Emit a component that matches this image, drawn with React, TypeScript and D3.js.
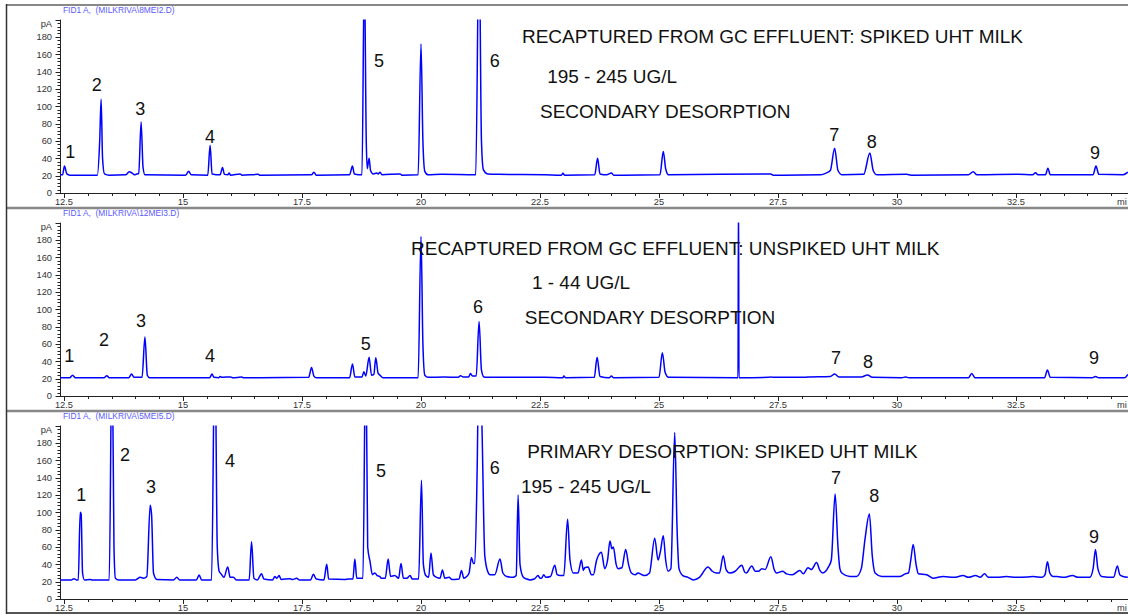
import React from "react";
import * as d3 from "d3";

// ---------- data (time in min, signal in pA) ----------
const traceSpikedSecondary: [number, number][] = [
  [12.42,21],[12.47,21],[12.51,31],[12.56,22],[12.62,20.5],
  [13.2,20.5],[13.25,60],[13.28,108],[13.31,40],[13.35,22],[13.45,20.5],
  [13.8,21],[13.87,24.5],[13.93,23],[13.98,21],[14.03,22],[14.07,22.5],[14.12,82],[14.16,30],[14.2,21],
  [15.05,20.5],[15.12,25],[15.17,21],
  [15.52,20.5],[15.57,55],[15.61,22],[15.78,21],[15.83,29.5],[15.87,21.5],[15.94,21],[15.97,23],[16.0,20.5],[16.2,22],[16.24,20.5],[16.58,21.5],[16.62,20.5],
  [17.7,21],[17.75,24],[17.8,20.5],
  [18.5,21],[18.56,31],[18.6,22],[18.76,21],[18.81,260],[18.85,60],[18.87,28],[18.91,40],[18.94,26],[19.0,22],[19.07,23],[19.1,22],[19.14,24],[19.18,21],[19.56,22],[19.6,20.5],
  [19.94,21],[20.0,172],[20.04,60],[20.08,25],[20.15,21],[20.43,21.5],
  [21.15,21],[21.22,300],[21.27,60],[21.31,27],[21.4,22],[21.62,21.5],[22.6,21],
  [22.95,20.5],[22.98,22.7],[23.02,20.5],
  [23.65,21],[23.71,40],[23.76,22],[23.9,21],[24.0,23],[24.05,20.5],
  [25.02,21],[25.09,48],[25.14,28],[25.2,21],
  [27.35,22],[27.4,20.5],[28.4,21],[28.51,23],[28.6,26],[28.69,51.5],[28.76,26],[28.85,21],
  [29.3,21.5],[29.43,46],[29.5,26],[29.58,21],[30.2,21.5],[30.3,20.5],
  [31.5,21],[31.6,24.6],[31.68,21],[32.54,21.5],[32.85,21],[32.91,23.4],[32.96,21],[33.12,21],[33.17,28.5],[33.22,21],
  [34.12,21],[34.18,31],[34.24,21.5],[34.75,21],[34.85,24],
];

const traceUnspikedSecondary: [number, number][] = [
  [12.42,21],[12.62,21],[12.68,24],[12.74,21],[13.34,21],[13.4,23.5],[13.45,21],[13.86,21],[13.92,25.4],[13.97,21.5],[14.14,21.5],[14.2,68],[14.25,24],[14.3,21],
  [15.56,21],[15.61,25.4],[15.65,21.5],[15.75,21],[15.78,22.5],[15.82,21.5],[15.9,22],[16.0,22],[16.05,21],[16.23,21.8],[16.28,21],
  [17.64,21.5],[17.7,33],[17.75,23],[17.8,21],
  [18.5,21],[18.56,37],[18.61,22],[18.76,22],[18.8,28],[18.84,23],[18.91,44.6],[18.96,24],[19.01,25],[19.05,44],[19.1,26],[19.14,24],[19.2,21],
  [19.94,21],[20.0,184],[20.04,60],[20.08,24],[20.15,21.5],[20.48,22],[20.78,21.5],[20.83,23.5],[20.88,22],[21.0,22],[21.04,26],[21.08,23],[21.16,23],[21.22,86],[21.27,30],[21.32,22],[21.4,21.5],
  [22.6,21.5],[22.98,21],[23.0,23],[23.04,21],[23.64,21.5],[23.7,44.6],[23.76,22.5],[23.95,21],[24.0,23],[24.05,21],
  [25.0,21.5],[25.07,50],[25.13,27],[25.2,21.5],
  [26.66,21],[26.67,240],[26.68,21],
  [27.3,21.5],[27.35,22],[27.4,21.5],[28.0,21.5],[28.13,22],[28.6,22.5],[28.69,25.4],[28.78,22],[29.25,22],[29.38,24.2],[29.48,21.5],[30.1,21],[30.18,22],[30.25,21],
  [31.5,21],[31.57,26],[31.64,21],[33.1,21],[33.16,30],[33.22,21.5],[34.1,21],[34.17,22.5],[34.24,21],[34.78,21],[34.85,25],
];

const traceSpikedPrimary: [number, number][] = [
  [12.42,22],[12.65,22],[12.71,23.5],[12.76,22],[12.8,22],[12.84,100],[12.86,98],[12.89,30],[12.93,22],[13.05,22.5],[13.1,22],
  [13.45,22],[13.51,300],[13.55,60],[13.58,24],[13.65,22],
  [14.0,22],[14.1,25],[14.17,24],[14.24,26],[14.31,108],[14.34,97],[14.38,30],[14.45,22.5],
  [14.8,22],[14.87,25],[14.93,22],[15.28,22],[15.34,27.6],[15.39,22],
  [15.6,22],[15.67,300],[15.72,60],[15.76,32],[15.8,29],[15.86,25],[15.94,37],[15.99,25],[16.06,25],[16.12,22],
  [16.39,22],[16.44,66],[16.49,24],[16.56,22],[16.65,29],[16.7,23],[16.88,22],[16.93,26],[16.97,24],[17.02,27],[17.06,22.5],[17.25,23.5],[17.3,22.5],[17.39,24],[17.44,22],
  [17.68,22],[17.74,28.5],[17.8,23],[17.96,22],[18.02,40],[18.06,23],[18.4,22.5],[18.47,23],[18.57,23],[18.61,46],[18.65,24],[18.78,24],[18.84,300],[18.88,60],[18.93,43],[18.98,28],[19.03,30],[19.08,27],[19.13,26],[19.17,24],[19.25,24],[19.31,46],[19.36,26],[19.45,27],[19.53,24],[19.58,41],[19.63,24],[19.7,24],[19.77,27],[19.82,23],
  [19.95,23],[20.01,137],[20.05,40],[20.1,27],[20.16,25],[20.21,53],[20.26,28],[20.33,25],[20.4,24],[20.45,33.5],[20.5,24],[20.59,25],[20.65,22.5],[20.71,22.5],[20.8,23],[20.85,33],[20.9,24],[20.96,26],[21.01,30],[21.06,48],[21.1,41],[21.13,41],[21.18,150],[21.22,300],[21.28,200],[21.34,50],[21.4,32],[21.45,28],[21.55,28],[21.66,46],[21.72,30],[21.8,26],[21.94,25],[22.0,27],[22.04,120],[22.08,40],[22.15,25],[22.22,23],[22.29,22],[22.38,23],[22.46,27],[22.5,24],[22.53,24],[22.58,28],[22.62,25],[22.72,26],[22.81,39],[22.86,28],[22.92,27],[23.0,27],[23.08,92],[23.13,45],[23.2,30],[23.3,30],[23.37,45],[23.41,33],[23.44,36],[23.51,37],[23.58,28],[23.62,28],[23.69,45],[23.76,53],[23.79,54],[23.86,35],[23.92,45],[23.97,67],[24.01,58],[24.04,60],[24.1,40],[24.14,35],[24.22,36],[24.3,57],[24.36,40],[24.42,30],[24.5,28],[24.56,30],[24.64,28],[24.7,27],[24.8,30],[24.91,70],[24.98,45],[25.03,55],[25.09,73],[25.14,45],[25.19,32],[25.25,35],[25.33,192],[25.38,80],[25.42,35],[25.5,27],[25.61,25],[25.72,22],[25.85,25],[26.03,37],[26.12,32],[26.21,30],[26.27,30],[26.35,50],[26.41,34],[26.49,30],[26.6,32],[26.74,39],[26.8,31],[26.83,30],[26.95,38],[27.02,32],[27.09,32],[27.16,35],[27.23,34],[27.35,48.8],[27.42,34],[27.47,30],[27.6,32],[27.68,29],[27.8,28],[27.96,33],[28.03,29],[28.13,36],[28.2,34],[28.31,42],[28.38,33],[28.44,30],[28.56,37],[28.62,45],[28.7,121],[28.76,60],[28.8,35],[28.84,30],[29.01,26],[29.15,26],[29.25,35],[29.33,70],[29.42,98],[29.48,50],[29.54,30],[29.68,26],[30.06,26],[30.17,29],[30.24,30],[30.29,45],[30.34,63],[30.4,40],[30.45,29],[30.62,28],[30.76,24],[30.97,26],[31.2,25],[31.39,27],[31.5,25],[31.65,27],[31.75,25],[31.84,29],[31.92,25],[32.1,25],[32.3,26],[32.5,25],[32.75,25.5],[32.86,26],[33.05,25],[33.11,28],[33.16,43],[33.21,30],[33.28,26],[33.36,26],[33.5,25],[33.69,27],[33.8,25],[34.05,25],[34.12,35],[34.17,57],[34.22,35],[34.3,26],[34.55,25],[34.63,38],[34.68,28],[34.75,26],[34.85,25],
];

// peak number labels: [label, time, pA]
const peakLabelsSpikedSecondary: [string, number, number][] = [
  ["1",12.63,48],["2",13.19,125],["3",14.10,97],["4",15.57,65],["5",19.12,153],["6",21.55,153],["7",28.68,67],["8",29.47,59],["9",34.16,46],
];
const peakLabelsUnspikedSecondary: [string, number, number][] = [
  ["1",12.61,47],["2",13.34,65],["3",14.12,87],["4",15.57,46],["5",18.84,60],["6",21.20,103],["7",28.72,44],["8",29.39,39],["9",34.14,44],
];
const peakLabelsSpikedPrimary: [string, number, number][] = [
  ["1",12.86,120],["2",13.78,166],["3",14.33,130],["4",15.99,160],["5",19.16,148],["6",21.55,151],["7",28.72,140],["8",29.52,119],["9",34.14,72],
];

// annotation texts: [text, time, pA]
const notesSpikedSecondary: [string, number, number][] = [
  ["RECAPTURED FROM GC EFFLUENT: SPIKED UHT MILK",22.12,173],
  ["195 - 245 UG/L",22.65,127],
  ["SECONDARY DESORPTION",22.5,86.5],
];
const notesUnspikedSecondary: [string, number, number][] = [
  ["RECAPTURED FROM GC EFFLUENT: UNSPIKED UHT MILK",19.79,162.6],
  ["1 - 44 UG/L",22.33,123.4],
  ["SECONDARY DESORPTION",22.18,83],
];
const notesSpikedPrimary: [string, number, number][] = [
  ["PRIMARY DESORPTION: SPIKED UHT MILK",22.23,162.6],
  ["195 - 245 UG/L",22.1,122.3],
];

const panelTitles = [
  "FID1 A,  (MILKRIVA\\8MEI2.D)",
  "FID1 A,  (MILKRIVA\\12MEI3.D)",
  "FID1 A,  (MILKRIVA\\5MEI5.D)",
];

const xTickLabels = [12.5, 15, 17.5, 20, 22.5, 25, 27.5, 30, 32.5];
const yTickLabels = [0, 20, 40, 60, 80, 100, 120, 140, 160, 180];
const xUnitLabel = "mi";

// ---------- layout ----------
const W = 1128;
const H = 615;
const FONT = "'Liberation Sans', Arial, Helvetica, sans-serif";
const panelZeroY = [193, 396, 599];
const PX_PER_PA = 0.867;

const x = d3.scaleLinear().domain([12.5, 32.5]).range([64, 1016]);
const X0 = 60;

const panels = [
  { title: panelTitles[0], trace: traceSpikedSecondary, peaks: peakLabelsSpikedSecondary, notes: notesSpikedSecondary },
  { title: panelTitles[1], trace: traceUnspikedSecondary, peaks: peakLabelsUnspikedSecondary, notes: notesUnspikedSecondary },
  { title: panelTitles[2], trace: traceSpikedPrimary, peaks: peakLabelsSpikedPrimary, notes: notesSpikedPrimary },
];

const minorX = d3.range(12.5, 35.01, 0.5);
const minorY = d3.range(0, 200.01, 4);

function Panel({ idx }: { idx: number }) {
  const p = panels[idx];
  const y0 = panelZeroY[idx];
  const y = d3.scaleLinear().domain([0, 200]).range([y0, y0 - 200 * PX_PER_PA]);
  const line = d3
    .line<[number, number]>()
    .x((d) => x(d[0]))
    .y((d) => y(d[1]))
    .curve(d3.curveMonotoneX);
  const clipId = `clip-${idx}`;
  return (
    <g>
      <defs>
        <clipPath id={clipId}>
          <rect x={X0} y={y(200)} width={W - X0 + 10} height={y(0) - y(200) + 1} />
        </clipPath>
      </defs>
      <text x={63} y={y0 - 180} fill="#5a5aff" fontSize={8.4} fontFamily={FONT} style={{ whiteSpace: "pre" }}>
        {p.title}
      </text>
      {/* y axis */}
      <line x1={X0 + 0.5} x2={X0 + 0.5} y1={y(200)} y2={y(0)} stroke="#222" strokeWidth={1} />
      {minorY.map((v) => {
        const major = Math.abs(v % 20) < 1e-6;
        return (
          <line key={"yt" + v} x1={X0 + 0.5 - (major ? 5 : 3)} x2={X0 + 0.5} y1={Math.round(y(v)) + 0.5} y2={Math.round(y(v)) + 0.5} stroke="#222" strokeWidth={1} />
        );
      })}
      {yTickLabels.map((v) => (
        <text key={"yl" + v} x={52} y={y(v)} dy="0.35em" textAnchor="end" fontSize={9.3} fill="#333" fontFamily={FONT}>
          {v}
        </text>
      ))}
      <text x={52} y={y(200) + 4} dy="0.35em" textAnchor="end" fontSize={9.3} fill="#333" fontFamily={FONT}>
        pA
      </text>
      {/* x axis */}
      <line x1={X0} x2={W + 5} y1={Math.round(y(0)) + 0.5} y2={Math.round(y(0)) + 0.5} stroke="#222" strokeWidth={1} />
      {minorX.map((t) => {
        const major = Math.abs(((t - 12.5) / 2.5) - Math.round((t - 12.5) / 2.5)) < 1e-6;
        return (
          <line key={"xt" + t} x1={Math.round(x(t)) + 0.5} x2={Math.round(x(t)) + 0.5} y1={y(0)} y2={y(0) + (major ? 5 : 3)} stroke="#222" strokeWidth={1} />
        );
      })}
      {xTickLabels.map((t) => (
        <text key={"xl" + t} x={x(t)} y={y(0) + 9} dy="0.35em" textAnchor="middle" fontSize={9.3} fill="#333" fontFamily={FONT}>
          {t}
        </text>
      ))}
      <text x={1117} y={y(0) + 9} dy="0.35em" fontSize={9.3} fill="#333" fontFamily={FONT}>
        {xUnitLabel}
      </text>
      {/* trace */}
      <path d={line(p.trace) || ""} fill="none" stroke="#0000ff" strokeWidth={1.5} clipPath={`url(#${clipId})`} strokeLinejoin="round" />
      {/* labels */}
      {p.peaks.map(([lab, t, v]) => (
        <text key={"pk" + lab} x={x(t)} y={y(v)} dy="0.35em" textAnchor="middle" fontSize={18} fill="#111" fontFamily={FONT}>
          {lab}
        </text>
      ))}
      {p.notes.map(([txt, t, v]) => (
        <text key={"nt" + txt} x={x(t)} y={y(v)} fontSize={19} fill="#111" fontFamily={FONT}>
          {txt}
        </text>
      ))}
    </g>
  );
}

export default function App() {
  return (
    <svg width={W} height={H} style={{ position: "absolute", left: 0, top: 0, background: "#fff" }}>
      <rect x={0} y={0} width={W} height={H} fill="#fff" />
      {/* frame */}
      <line x1={6} x2={W} y1={5} y2={5} stroke="#888" strokeWidth={2} />
      <line x1={6} x2={W} y1={208} y2={208} stroke="#888" strokeWidth={2.5} />
      <line x1={6} x2={W} y1={411} y2={411} stroke="#888" strokeWidth={2.5} />
      <line x1={6} x2={W} y1={613} y2={613} stroke="#555" strokeWidth={2} />
      <line x1={6.5} x2={6.5} y1={4} y2={614} stroke="#333" strokeWidth={1.5} />
      {panels.map((_, i) => (
        <Panel key={i} idx={i} />
      ))}
    </svg>
  );
}
